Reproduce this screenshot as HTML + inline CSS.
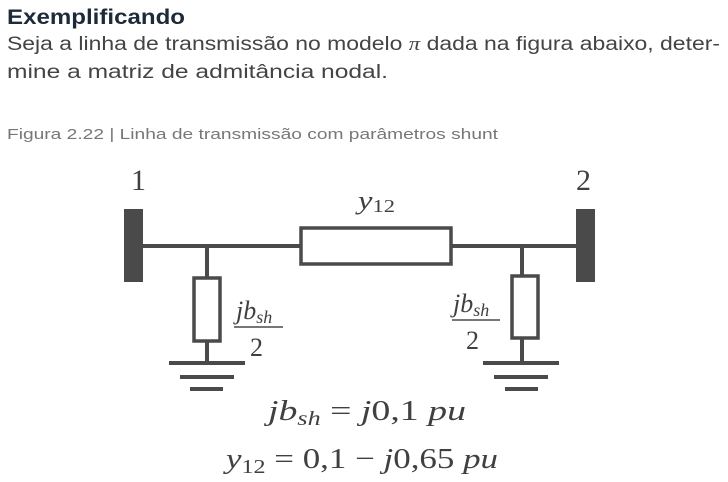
<!DOCTYPE html>
<html><head><meta charset="utf-8"><style>
body{margin:0;width:728px;height:482px;background:#fff;position:relative;overflow:hidden}
</style></head><body>
<svg width="728" height="482" style="position:absolute;left:0;top:0" font-family="Liberation Serif,serif" fill="#404040">
<g font-family="Liberation Sans,sans-serif">
<text x="7" y="24" font-size="21" font-weight="bold" fill="#1d2a3a" textLength="178" lengthAdjust="spacingAndGlyphs">Exemplificando</text>
<text x="7" y="50" font-size="19" fill="#444" textLength="713" lengthAdjust="spacingAndGlyphs">Seja a linha de transmissão no modelo <tspan font-family="Liberation Serif,serif" font-style="italic">π</tspan>  dada na figura abaixo, deter-</text>
<text x="7" y="78" font-size="19" fill="#444" textLength="381" lengthAdjust="spacingAndGlyphs">mine a matriz de admitância nodal.</text>
<text x="7" y="139" font-size="15" fill="#777" textLength="491" lengthAdjust="spacingAndGlyphs">Figura 2.22 | Linha de transmissão com parâmetros shunt</text>
</g>
<g stroke="#4a4a4a" stroke-width="4" fill="none">
<line x1="140" y1="246" x2="300" y2="246"/><line x1="451" y1="246" x2="580" y2="246"/>
<rect x="301" y="228" width="150" height="36" stroke-width="3.5"/>
<line x1="207" y1="246" x2="207" y2="277"/><rect x="194" y="278" width="26" height="63" stroke-width="3.5"/><line x1="207" y1="341" x2="207" y2="363"/>
<line x1="522" y1="246" x2="522" y2="275"/><rect x="512" y="276" width="26" height="62" stroke-width="3.5"/><line x1="522" y1="338" x2="522" y2="363"/>
<line x1="169" y1="363" x2="245" y2="363"/><line x1="180" y1="377" x2="234" y2="377"/><line x1="190" y1="389" x2="223" y2="389"/>
<line x1="483" y1="363" x2="559" y2="363"/><line x1="494" y1="377" x2="548" y2="377"/><line x1="505" y1="389" x2="538" y2="389"/>
<line x1="234" y1="327" x2="283" y2="327" stroke-width="1.5"/><line x1="452" y1="320" x2="500" y2="320" stroke-width="1.5"/>
</g>
<rect x="124" y="209" width="19" height="73" fill="#4a4a4a"/>
<rect x="576" y="209" width="19" height="73" fill="#4a4a4a"/>
<text x="131" y="190" font-size="30">1</text>
<text x="576" y="190" font-size="30">2</text>
<text x="358" y="209" font-size="26" font-style="italic" textLength="37" lengthAdjust="spacingAndGlyphs">y<tspan font-size="18" font-style="normal" dy="3">12</tspan></text>
<text x="236" y="319" font-size="26" font-style="italic">jb<tspan font-size="18" dy="4">sh</tspan></text>
<text x="250" y="356" font-size="26">2</text>
<text x="453" y="312" font-size="26" font-style="italic">jb<tspan font-size="18" dy="4">sh</tspan></text>
<text x="466" y="349" font-size="26">2</text>
<text x="268" y="420" font-size="29" textLength="198" lengthAdjust="spacingAndGlyphs"><tspan font-style="italic">jb</tspan><tspan font-style="italic" font-size="20" dy="5">sh</tspan><tspan dy="-5"> = </tspan><tspan font-style="italic">j</tspan>0,1 <tspan font-style="italic">pu</tspan></text>
<text x="226" y="468" font-size="29" textLength="272" lengthAdjust="spacingAndGlyphs"><tspan font-style="italic">y</tspan><tspan font-size="20" dy="5">12</tspan><tspan dy="-5"> = 0,1 − </tspan><tspan font-style="italic">j</tspan>0,65 <tspan font-style="italic">pu</tspan></text>
</svg>
</body></html>
